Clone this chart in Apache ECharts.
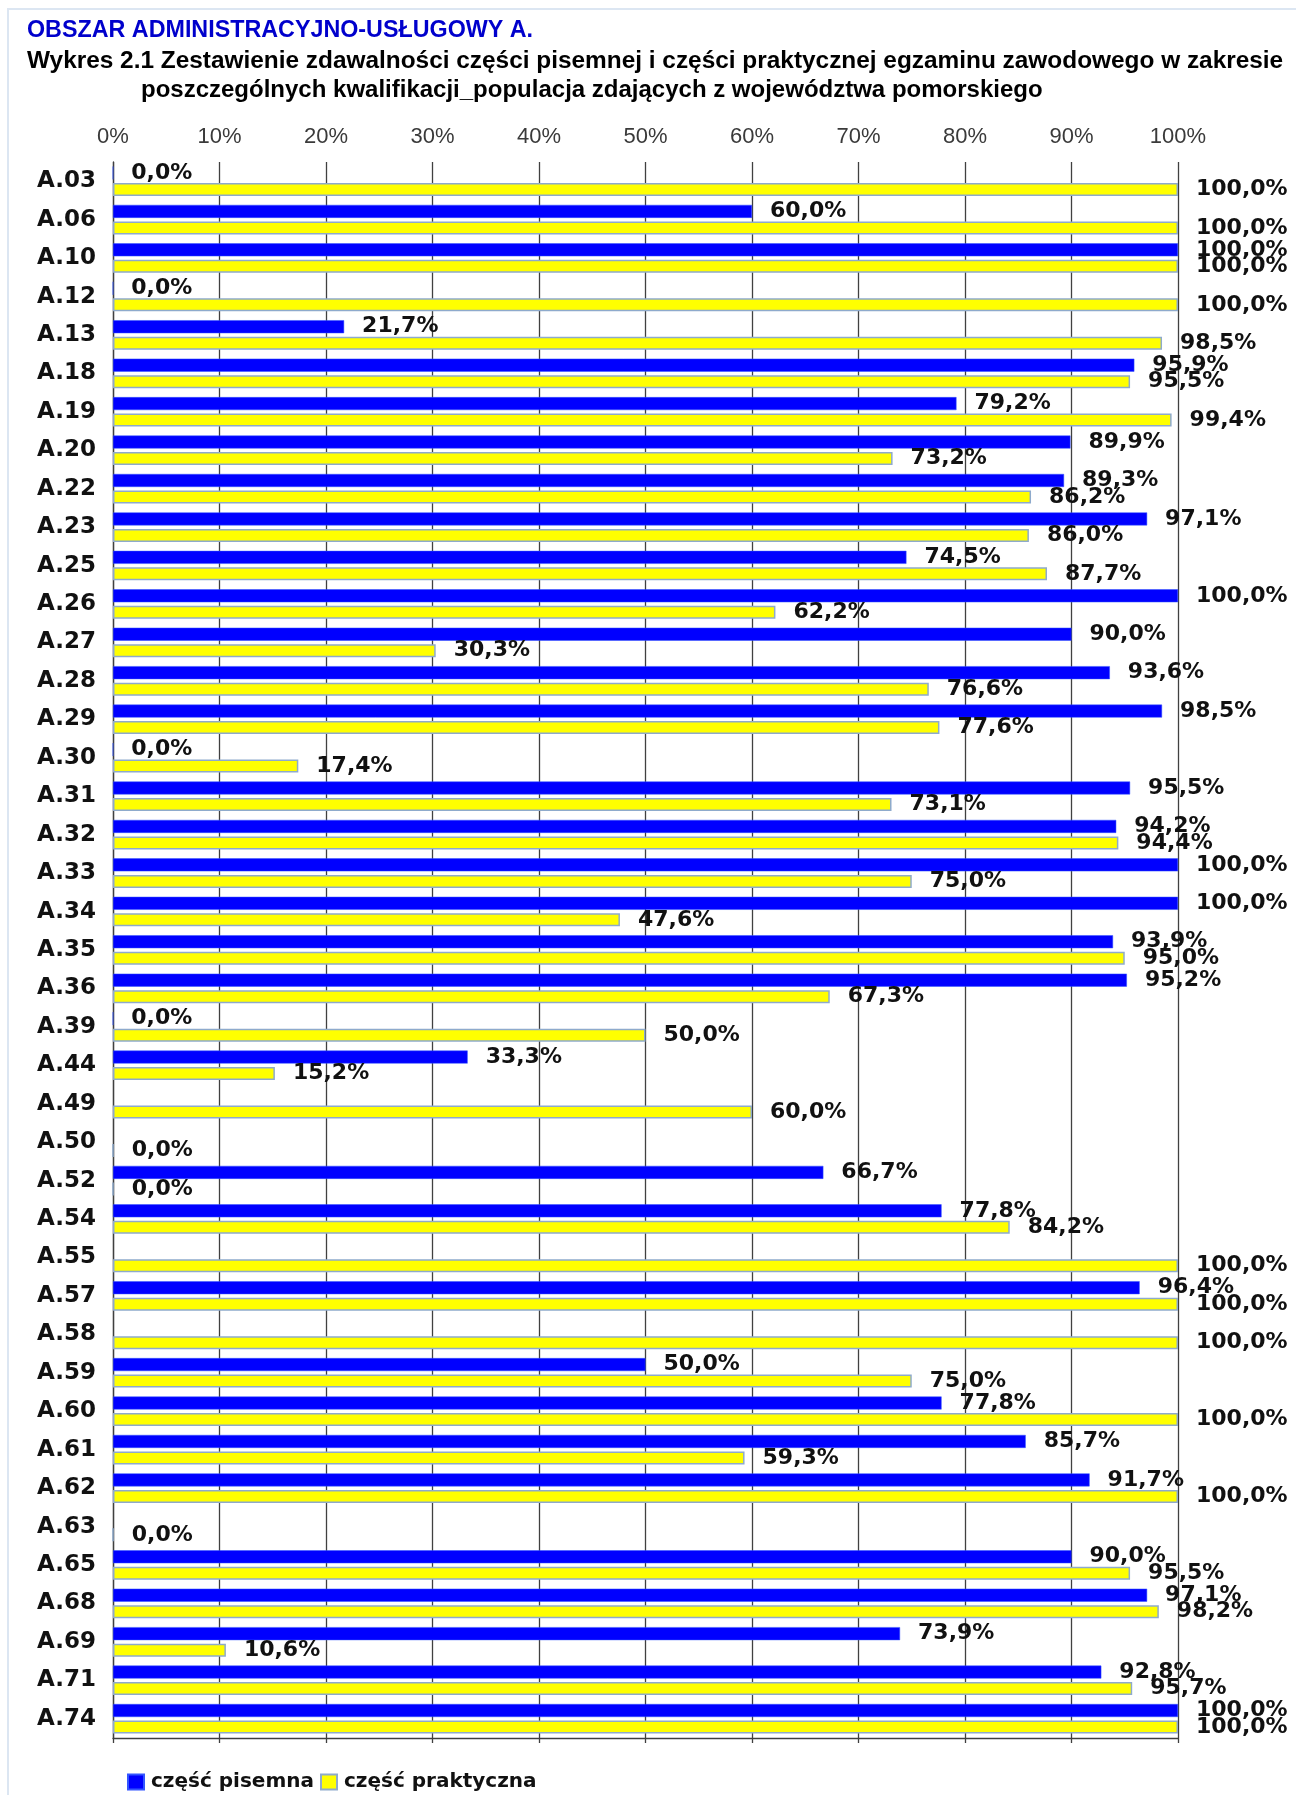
<!DOCTYPE html>
<html>
<head>
<meta charset="utf-8">
<script src="https://cdn.jsdelivr.net/npm/echarts@6/dist/echarts.min.js"></script>
<style>
html,body{margin:0;padding:0;background:#fff;}
#c{width:1296px;height:1795px;}
</style>
</head>
<body>
<div id="c"></div>
<script>
var categories = ['A.03','A.06','A.10','A.12','A.13','A.18','A.19','A.20','A.22','A.23','A.25','A.26','A.27','A.28','A.29','A.30','A.31','A.32','A.33','A.34','A.35','A.36','A.39','A.44','A.49','A.50','A.52','A.54','A.55','A.57','A.58','A.59','A.60','A.61','A.62','A.63','A.65','A.68','A.69','A.71','A.74'];
var czescPisemna = [0.0,60.0,100.0,0.0,21.7,95.9,79.2,89.9,89.3,97.1,74.5,100.0,90.0,93.6,98.5,0.0,95.5,94.2,100.0,100.0,93.9,95.2,0.0,33.3,null,null,66.7,77.8,null,96.4,null,50.0,77.8,85.7,91.7,null,90.0,97.1,73.9,92.8,100.0];
var czescPraktyczna = [100.0,100.0,100.0,100.0,98.5,95.5,99.4,73.2,86.2,86.0,87.7,62.2,30.3,76.6,77.6,17.4,73.1,94.4,75.0,47.6,95.0,67.3,50.0,15.2,60.0,0.0,0.0,84.2,100.0,100.0,100.0,75.0,100.0,59.3,100.0,0.0,95.5,98.2,10.6,95.7,100.0];
var tickLabels = ['0%','10%','20%','30%','40%','50%','60%','70%','80%','90%','100%'];
var seriesNames = ['część pisemna','część praktyczna'];
var titleMain = 'OBSZAR ADMINISTRACYJNO-USŁUGOWY A.';
var titleLine1 = 'Wykres 2.1 Zestawienie zdawalności części pisemnej i części praktycznej egzaminu zawodowego w zakresie';
var titleLine2 = 'poszczególnych kwalifikacji_populacja zdających z województwa pomorskiego';

var chart = echarts.init(document.getElementById('c'), null, {renderer:'canvas'});
function fmt(p){ return p.value.toFixed(1).replace('.', ',') + '%'; }
var labelStyle = {show:true, position:'right', distance:18, formatter:fmt,
  fontFamily:'DejaVu Sans', fontWeight:'bold', fontSize:22, color:'#111'};
var gridColor = '#404040';
var option = {
  animation:false,
  backgroundColor:'#ffffff',
  title:[
    {text:titleMain, left:27, top:19, padding:0, textStyle:{fontFamily:'Liberation Sans', fontWeight:'bold', fontSize:23.3, lineHeight:23, color:'#0000CC'}},
    {text:titleLine1, left:27, top:49, padding:0, textStyle:{fontFamily:'Liberation Sans', fontWeight:'bold', fontSize:24.4, lineHeight:24, color:'#000'}},
    {text:titleLine2, left:141, top:78, padding:0, textStyle:{fontFamily:'Liberation Sans', fontWeight:'bold', fontSize:24, lineHeight:24, color:'#000'}}
  ],
  graphic:[
    {type:'polyline', shape:{points:[[8,1795],[8,9],[1296,9]]}, style:{stroke:'#DCE6F2', lineWidth:2, fill:null}, silent:true}
  ],
  legend:{
    left:122, top:1767, itemWidth:16, itemHeight:15, itemGap:6, icon:'rect',
    data:seriesNames,
    textStyle:{fontFamily:'DejaVu Sans', fontWeight:'bold', fontSize:20, color:'#111', padding:[0,0,0,2]}
  },
  grid:{left:113, right:118, top:162, bottom:57, containLabel:false},
  xAxis:[
    {type:'value', min:0, max:100, interval:10, position:'top',
     axisLine:{show:false}, axisTick:{show:false},
     axisLabel:{show:true, margin:14, formatter:function(v){return tickLabels[Math.round(v/10)];},
       fontFamily:'Liberation Sans', fontSize:22, color:'#3a3a3a'},
     splitLine:{show:true, lineStyle:{color:gridColor, width:1.3}}},
    {type:'value', min:0, max:100, interval:10, position:'bottom',
     axisLine:{show:true, lineStyle:{color:gridColor, width:1.3}},
     axisTick:{show:true, length:5, lineStyle:{color:gridColor, width:1.3}},
     axisLabel:{show:false}, splitLine:{show:false}}
  ],
  yAxis:{type:'category', data:categories, inverse:true,
    axisLine:{show:true, lineStyle:{color:gridColor, width:1.3}},
    axisTick:{show:false},
    axisLabel:{margin:17, fontFamily:'DejaVu Sans', fontWeight:'bold', fontSize:23, color:'#111'}},
  series:[
    {name:seriesNames[0], type:'bar', xAxisIndex:0, data:czescPisemna, barWidth:13, barGap:'27%',
     itemStyle:{color:'#0000FF', borderColor:'#3355FF', borderWidth:0.5}, label:labelStyle},
    {name:seriesNames[1], type:'bar', xAxisIndex:0, data:czescPraktyczna, barWidth:13, barGap:'27%',
     itemStyle:{color:'#FFFF00', borderColor:'#8EAACC', borderWidth:1.5}, label:labelStyle}
  ]
};
chart.setOption(option);
</script>
</body>
</html>
